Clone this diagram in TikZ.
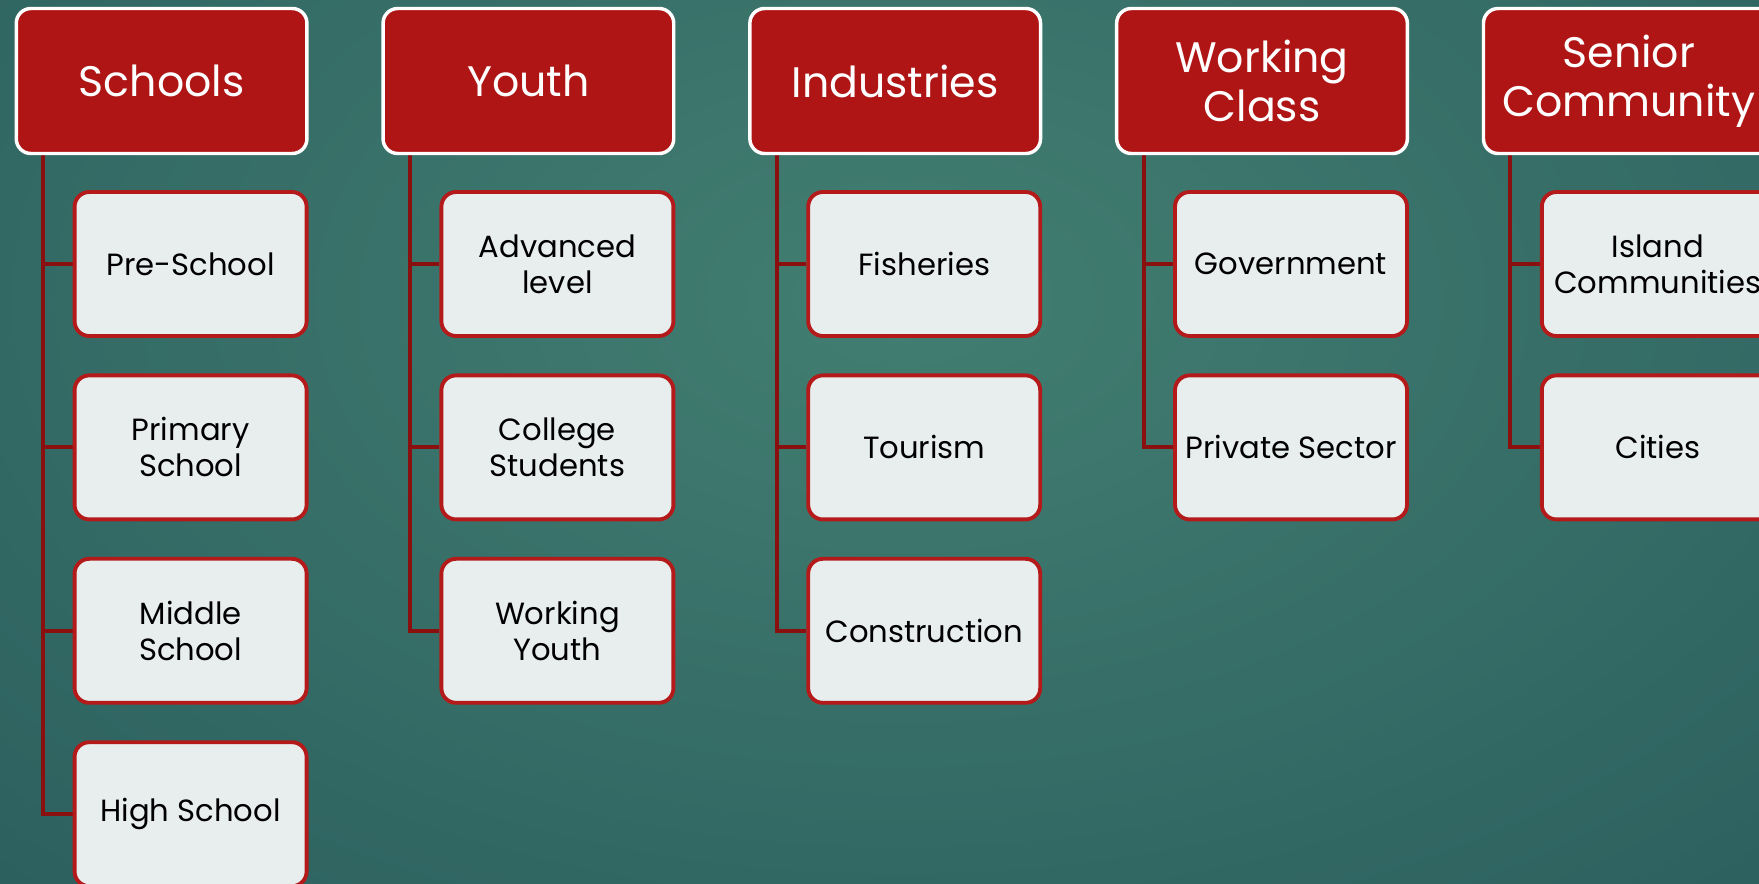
\documentclass[tikz,border=0pt]{standalone}
\usepackage{fontspec}
\setmainfont{Poppins}
\usepackage{tikz}
\usetikzlibrary{backgrounds}

\definecolor{hdrred}{RGB}{175,21,21}
\definecolor{boxred}{RGB}{180,26,26}
\definecolor{linered}{RGB}{138,16,16}
\definecolor{boxfill}{RGB}{232,238,238}
\definecolor{bgmid}{RGB}{66,126,113}
\definecolor{bgedge}{RGB}{22,66,77}

\tikzset{
  hdr/.style={draw=white, line width=2.6pt, fill=hdrred, rounded corners=11pt,
    minimum width=218pt, minimum height=108.75pt, inner sep=0pt,
    text=white, align=center, font=\fontsize{32}{37}\selectfont},
  item/.style={draw=boxred, line width=2.9pt, fill=boxfill, rounded corners=11pt,
    minimum width=174pt, minimum height=108pt, inner sep=0pt,
    text=black, align=center, font=\fontsize{23}{27}\selectfont},
  branch/.style={draw=linered, line width=2.9pt}
}

\begin{document}
\begin{tikzpicture}[x=0.75pt,y=0.75pt,yscale=-1,xscale=1]

        \useasboundingbox (0,0) rectangle (1759,883);
        \begin{scope}[on background layer]
        \clip (0,0) rectangle (1759,883);
        \shade [inner color=bgmid, outer color=bgedge] (-1700,-1300) rectangle (3500,1900);
        \end{scope}

        % group headers
        \node [hdr] (schools) at (161.6,81) {Schools};
        \node [hdr] (youth) at (528.4,81) {Youth};
        \node [hdr] (industries) at (895.2,81) {Industries};
        \node [hdr] (working) at (1262,81) {Working\\Class};
        \node [hdr] (senior) at (1628.8,81) {Senior\\Community};

        % Schools
        \node [item] (preschool) at (190.6,264) {Pre-School};
        \node [item] (primary) at (190.6,447.4) {Primary\\School};
        \node [item] (middle) at (190.6,630.8) {Middle\\School};
        \node [item] (high) at (190.6,814.2) {High School};

        % Youth
        \node [item] (advanced) at (557.4,264) {Advanced\\level};
        \node [item] (college) at (557.4,447.4) {College\\Students};
        \node [item] (workyouth) at (557.4,630.8) {Working\\Youth};

        % Industries
        \node [item] (fisheries) at (924.2,264) {Fisheries};
        \node [item] (tourism) at (924.2,447.4) {Tourism};
        \node [item] (construction) at (924.2,630.8) {Construction};

        % Working Class
        \node [item] (government) at (1291,264) {Government};
        \node [item] (private) at (1291,447.4) {Private Sector};

        % Senior Community
        \node [item] (island) at (1657.8,264) {Island\\Communities};
        \node [item] (cities) at (1657.8,447.4) {Cities};

        \begin{scope}[on background layer]
        \draw [branch] ([xshift=21.5pt]schools.south west) |- (preschool.west);
        \draw [branch] ([xshift=21.5pt]schools.south west) |- (primary.west);
        \draw [branch] ([xshift=21.5pt]schools.south west) |- (middle.west);
        \draw [branch] ([xshift=21.5pt]schools.south west) |- (high.west);
        \draw [branch] ([xshift=21.5pt]youth.south west) |- (advanced.west);
        \draw [branch] ([xshift=21.5pt]youth.south west) |- (college.west);
        \draw [branch] ([xshift=21.5pt]youth.south west) |- (workyouth.west);
        \draw [branch] ([xshift=21.5pt]industries.south west) |- (fisheries.west);
        \draw [branch] ([xshift=21.5pt]industries.south west) |- (tourism.west);
        \draw [branch] ([xshift=21.5pt]industries.south west) |- (construction.west);
        \draw [branch] ([xshift=21.5pt]working.south west) |- (government.west);
        \draw [branch] ([xshift=21.5pt]working.south west) |- (private.west);
        \draw [branch] ([xshift=21.5pt]senior.south west) |- (island.west);
        \draw [branch] ([xshift=21.5pt]senior.south west) |- (cities.west);
        \end{scope}
    \end{tikzpicture}
\end{document}
